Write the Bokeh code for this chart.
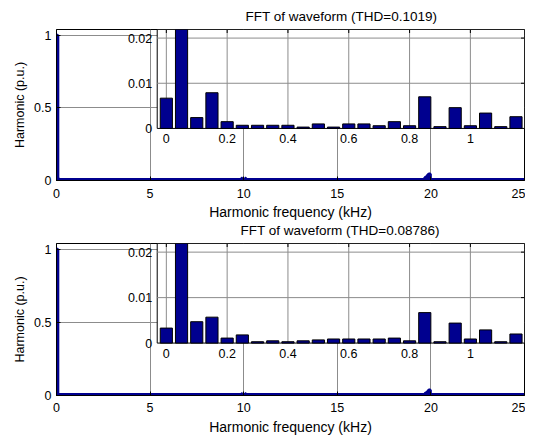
import numpy as np
from bokeh.plotting import figure
from bokeh.models import Range1d, FixedTicker, Title
from bokeh.layouts import column
from bokeh.embed import file_html
from bokeh.resources import INLINE
from bokeh.core.properties import value

# ---------------- data ----------------
F0 = 0.05  # kHz, fundamental frequency (50 Hz)
orders = list(range(24))  # harmonic orders shown in the zoomed inset (0 .. 1.15 kHz)
mag1 = [0.0067, 1.0, 0.0024, 0.0079, 0.0015, 0.0007, 0.0007, 0.0007, 0.0007, 0.0003,
        0.0010, 0.0003, 0.0010, 0.0010, 0.0006, 0.0015, 0.0006, 0.0070, 0.0004, 0.0046,
        0.0006, 0.0034, 0.0004, 0.0026]
mag2 = [0.0033, 1.0, 0.0047, 0.0057, 0.0011, 0.0018, 0.0003, 0.0005, 0.0003, 0.0005,
        0.0007, 0.0009, 0.0009, 0.0009, 0.0009, 0.0011, 0.0005, 0.0067, 0.0003, 0.0044,
        0.0009, 0.0029, 0.0003, 0.0020]
# high-frequency sideband harmonics visible in the full-range plots
hf_orders1 = [198, 202, 394, 395, 396, 397, 398, 399]
hf_mag1 = [0.015, 0.015, 0.020, 0.025, 0.030, 0.040, 0.045, 0.045]
hf_orders2 = [198, 202, 394, 395, 396, 397, 398, 399]
hf_mag2 = [0.012, 0.012, 0.015, 0.018, 0.022, 0.030, 0.038, 0.038]
titles = ["FFT of waveform (THD=0.1019)", "FFT of waveform (THD=0.08786)"]

main_xticks = [0, 5, 10, 15, 20, 25]
main_yticks = [0, 0.5, 1]
main_ylabels = {0: "0", 0.5: "0.5", 1: "1"}
inset_xticks = [0, 0.2, 0.4, 0.6, 0.8, 1.0]
inset_xlabels = ["0", "0.2", "0.4", "0.6", "0.8", "1"]
inset_yticks = [0, 0.01, 0.02]
inset_ylabels = ["0", "0.01", "0.02"]

# ---------------- geometry / style ----------------
MAIN_X = (0, 25)
MAIN_Y = (0, 1.04)
INSET_X = (-0.03, 1.178)
INSET_Y = (0, 0.0219)
INSET_X0_MAIN = 5.38     # left edge of inset in main x units
INSET_Y0_MAIN = 0.3586   # bottom edge of inset in main y units
BAR_W = 0.8 * F0
NAVY = "#00008f"
FONT = "Liberation Sans"
GRID = "#8c8c8c"

sx = (INSET_X[1] - INSET_X[0]) / (MAIN_X[1] - INSET_X0_MAIN)
ix_start = INSET_X[0] - (INSET_X0_MAIN - MAIN_X[0]) * sx
sy = (INSET_Y[1] - INSET_Y[0]) / (MAIN_Y[1] - INSET_Y0_MAIN)
iy_start = INSET_Y[0] - (INSET_Y0_MAIN - MAIN_Y[0]) * sy


def make_title(text, offset, standoff):
    return Title(text=text, align="left", offset=offset, standoff=standoff,
                 text_font=FONT, text_font_size="13.5px", text_font_style="normal",
                 text_color="black")


def make(mag, hf_o, hf_m, height, top_b, bottom_b, tick_standoff, lab_standoff):
    p = figure(width=525, height=height, output_backend="svg", toolbar_location=None,
               x_range=Range1d(*MAIN_X), y_range=Range1d(*MAIN_Y),
               min_border_left=56, min_border_right=1,
               min_border_top=top_b, min_border_bottom=bottom_b)
    p.extra_x_ranges = {"ix": Range1d(ix_start, INSET_X[1])}
    p.extra_y_ranges = {"iy": Range1d(iy_start, INSET_Y[1])}
    p.background_fill_color = "white"
    p.border_fill_color = "white"
    p.outline_line_color = "black"
    p.outline_line_width = 1

    for ax in (p.xaxis[0], p.yaxis[0]):
        ax.axis_line_color = "black"
        ax.major_tick_in = 4
        ax.major_tick_out = 0
        ax.major_tick_line_color = "black"
        ax.minor_tick_line_color = None
        ax.major_label_text_font = FONT
        ax.major_label_text_font_size = "12.5px"
        ax.major_label_text_color = "black"
        ax.axis_label_text_font = FONT
        ax.axis_label_text_font_style = "normal"
        ax.axis_label_text_color = "black"
    p.xaxis[0].major_label_standoff = tick_standoff
    p.yaxis[0].major_label_standoff = 5
    p.xaxis[0].ticker = FixedTicker(ticks=main_xticks)
    p.yaxis[0].ticker = FixedTicker(ticks=main_yticks)
    p.yaxis[0].major_label_overrides = main_ylabels
    p.xaxis[0].axis_label = "Harmonic frequency (kHz)"
    p.xaxis[0].axis_label_text_font_size = "14px"
    p.xaxis[0].axis_label_standoff = lab_standoff
    p.yaxis[0].axis_label = "Harmonic (p.u.)"
    p.yaxis[0].axis_label_text_font_size = "12.5px"
    p.yaxis[0].axis_label_standoff = 4

    p.xgrid.grid_line_color = GRID
    p.ygrid.grid_line_color = GRID

    # --- full-range spectrum ---
    p.segment(x0=[MAIN_X[0]], y0=[MAIN_Y[0]], x1=[MAIN_X[1]], y1=[MAIN_Y[0]],
              line_color=NAVY, line_width=5)
    xs = [o * F0 for o in orders + hf_o]
    tops = mag + hf_m
    p.vbar(x=xs, top=tops, bottom=0, width=BAR_W, fill_color=NAVY,
           line_color=NAVY, line_width=3)

    # --- inset (zoom 0 .. 1.15 kHz) ---
    kw = dict(x_range_name="ix", y_range_name="iy")
    p.quad(left=[INSET_X[0]], right=[INSET_X[1]], bottom=[INSET_Y[0]], top=[INSET_Y[1]],
           fill_color="white", line_color="black", line_width=1, **kw)
    p.segment(x0=inset_xticks, x1=inset_xticks,
              y0=[INSET_Y[0]] * len(inset_xticks), y1=[INSET_Y[1]] * len(inset_xticks),
              line_color=GRID, line_width=1, **kw)
    gy = inset_yticks[1:]
    p.segment(x0=[INSET_X[0]] * len(gy), x1=[INSET_X[1]] * len(gy), y0=gy, y1=gy,
              line_color=GRID, line_width=1, **kw)
    p.vbar(x=[o * F0 for o in orders], top=mag, bottom=0, width=BAR_W,
           fill_color=NAVY, line_color="black", line_width=1, **kw)
    # inward tick marks on inset top / right edges
    p.scatter(x=inset_xticks, y=[INSET_Y[1]] * len(inset_xticks), marker="dash",
              angle=np.pi / 2, size=7, line_color="black", **kw)
    p.scatter(x=[INSET_X[1]] * len(gy), y=gy, marker="dash", size=7,
              line_color="black", **kw)
    p.text(x=inset_xticks, y=[INSET_Y[0]] * len(inset_xticks), text=inset_xlabels,
           text_align="center", text_baseline="top", y_offset=6,
           text_font=value(FONT), text_font_size="12.5px", text_color="black", **kw)
    p.text(x=[INSET_X[0]] * len(inset_yticks), y=inset_yticks, text=inset_ylabels,
           text_align="right", text_baseline="middle", x_offset=-5,
           text_font=value(FONT), text_font_size="12.5px", text_color="black", **kw)
    return p


p1 = make(mag1, hf_orders1, hf_mag1, 238, 29, 58, 8, 3)
p1.add_layout(make_title(titles[0], 189, 11), "above")
p1.add_layout(make_title(titles[1], 184, -3), "below")
p2 = make(mag2, hf_orders2, hf_mag2, 202, 5, 45, 7, 4)
layout = column(p1, p2, spacing=0)

open("out.html", "w").write(file_html(layout, INLINE))
